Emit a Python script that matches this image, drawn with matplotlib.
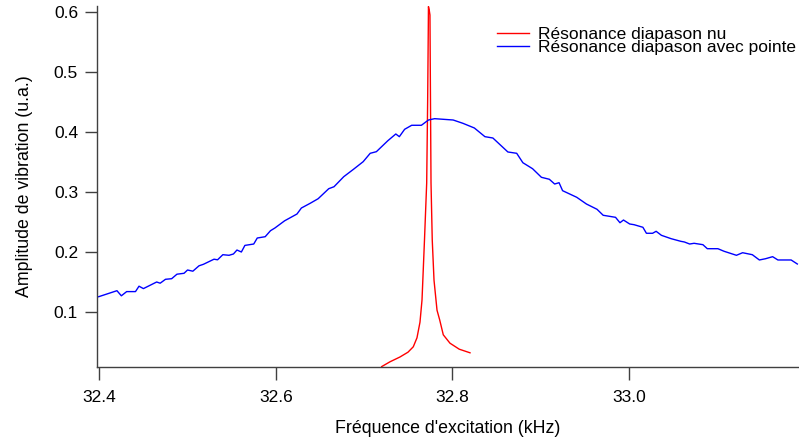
import matplotlib
matplotlib.use("Agg")
import matplotlib.pyplot as plt

# Red curve: bare tuning fork resonance
red_freq = [32.7200, 32.7294, 32.7407, 32.7498, 32.7558, 32.7600, 32.7634, 32.7657,
            32.7671, 32.7685, 32.7710, 32.7721, 32.7728, 32.7730, 32.7739, 32.7747,
            32.7753, 32.7759, 32.7773, 32.7793, 32.7827, 32.7857, 32.7898, 32.7974,
            32.8079, 32.8201]
red_amp = [0.009, 0.017, 0.025, 0.033, 0.042, 0.057, 0.083, 0.120,
           0.170, 0.220, 0.315, 0.453, 0.570, 0.609, 0.603, 0.595,
           0.453, 0.315, 0.220, 0.153, 0.103, 0.087, 0.062, 0.048,
           0.038, 0.032]

# Blue curve: tuning fork with tip
blue_freq = [32.3993, 32.420, 32.425, 32.431, 32.441, 32.445, 32.450, 32.465, 32.469, 32.475,
             32.482, 32.488, 32.496, 32.500, 32.506, 32.513, 32.518, 32.530, 32.534, 32.540,
             32.547, 32.552, 32.556, 32.561, 32.565, 32.575, 32.579, 32.588, 32.594, 32.599,
             32.610, 32.624, 32.629, 32.639, 32.648, 32.660, 32.666, 32.677, 32.688, 32.699,
             32.707, 32.714, 32.727, 32.736, 32.740, 32.746, 32.754, 32.765, 32.773, 32.780,
             32.801, 32.812, 32.825, 32.837, 32.846, 32.863, 32.873, 32.880, 32.891, 32.901,
             32.910, 32.916, 32.921, 32.925, 32.941, 32.952, 32.964, 32.971, 32.985, 32.990,
             32.994, 33.001, 33.006, 33.016, 33.020, 33.027, 33.031, 33.037, 33.048, 33.059,
             33.063, 33.069, 33.074, 33.084, 33.089, 33.101, 33.108, 33.122, 33.129, 33.140,
             33.148, 33.155, 33.163, 33.169, 33.184, 33.191]
blue_amp = [0.1255, 0.1355, 0.127, 0.134, 0.134, 0.143, 0.139, 0.150, 0.148, 0.1545,
            0.1555, 0.163, 0.1645, 0.170, 0.168, 0.177, 0.1795, 0.188, 0.187, 0.1955,
            0.1945, 0.1967, 0.2033, 0.200, 0.211, 0.2133, 0.2233, 0.2255, 0.2355, 0.240,
            0.252, 0.2633, 0.2733, 0.2812, 0.2888, 0.3055, 0.3088, 0.3255, 0.3378, 0.3505,
            0.3645, 0.3672, 0.3855, 0.3967, 0.3922, 0.4045, 0.4112, 0.4112, 0.420, 0.4222,
            0.420, 0.4145, 0.4067, 0.3922, 0.390, 0.3667, 0.3645, 0.3488, 0.3388, 0.3245,
            0.3212, 0.3133, 0.3155, 0.3022, 0.2912, 0.280, 0.2712, 0.2612, 0.2578, 0.2488,
            0.2533, 0.2467, 0.2455, 0.2412, 0.2312, 0.2312, 0.2345, 0.2278, 0.2222, 0.2178,
            0.2167, 0.2133, 0.2145, 0.2122, 0.2055, 0.2055, 0.2012, 0.1945, 0.1988, 0.1955,
            0.1867, 0.1888, 0.1922, 0.1867, 0.1867, 0.180]

x_ticks = [32.4, 32.6, 32.8, 33.0]
x_ticklabels = ["32.4", "32.6", "32.8", "33.0"]
y_ticks = [0.1, 0.2, 0.3, 0.4, 0.5, 0.6]
y_ticklabels = ["0.1", "0.2", "0.3", "0.4", "0.5", "0.6"]

label_red = "Résonance diapason nu"
label_blue = "Résonance diapason avec pointe"
xlabel = "Fréquence d'excitation (kHz)"
ylabel = "Amplitude de vibration (u.a.)"

plt.rcParams['font.family'] = ['Liberation Sans', 'DejaVu Sans']
FS = 12.5
FL = 12.8
W, H = 799, 441
fig = plt.figure(figsize=(W / 100, H / 100), dpi=100)
ax = fig.add_axes([97 / W, 1 - 367 / H, 1 - 97 / W, (367 - 6) / H])

l_red, = ax.plot(red_freq, red_amp, color='#ff0000', lw=1.0, label=label_red)
l_blue, = ax.plot(blue_freq, blue_amp, color='#0000ff', lw=1.0, label=label_blue)

ax.set_xlim(32.3974, 33.1929)
ax.set_ylim(0.00833, 0.61)
ax.set_xticks(x_ticks)
ax.set_xticklabels(x_ticklabels)
ax.set_yticks(y_ticks)
ax.set_yticklabels(y_ticklabels)

for s in ['top', 'right']:
    ax.spines[s].set_visible(False)
for s in ['left', 'bottom']:
    ax.spines[s].set_color('#404040')
    ax.spines[s].set_linewidth(1.0)

ax.tick_params(axis='y', direction='out', length=8.6, width=1.0, color='#404040',
               labelsize=FS, pad=5)
ax.tick_params(axis='x', direction='out', length=9.4, width=1.0, color='#404040',
               labelsize=FS, pad=7)

ax.set_xlabel(xlabel, fontsize=FL, labelpad=11)
ax.set_ylabel(ylabel, fontsize=FL, labelpad=15)

leg = ax.legend(handles=[l_red, l_blue], loc='upper left',
                bbox_to_anchor=(497 / W, 1 - 27 / H), bbox_transform=fig.transFigure,
                frameon=False, fontsize=FS, handlelength=1.85, handletextpad=0.52,
                labelspacing=-0.12, borderpad=0, borderaxespad=0)

fig.savefig("out.png", dpi=100)
